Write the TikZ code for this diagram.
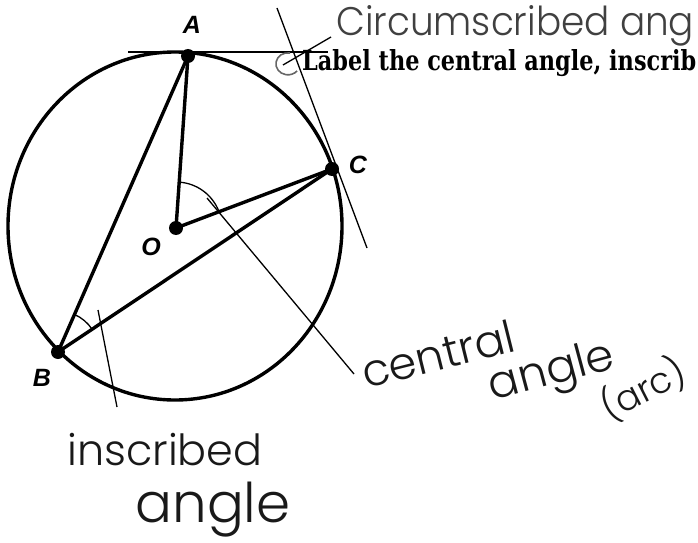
\documentclass[tikz,border=0pt]{standalone}
\usetikzlibrary{calc}
\usepackage{fontspec}
\setmainfont{Liberation Serif}
\newfontfamily\titlefont{DejaVu Serif}
\newfontfamily\lblfont{Liberation Sans}
\IfFontExistsTF{Poppins Light}{\newfontfamily\handfont{Poppins Light}}{\newfontfamily\handfont{DejaVu Sans}}
\usepackage{graphicx}
\begin{document}
\begin{tikzpicture}[x=1pt,y=1pt,
  thick line/.style={line width=3.4pt},
  thin line/.style={line width=1.3pt},
  dotmark/.style={circle,fill=black,inner sep=0pt,minimum size=14pt},
  ptlabel/.style={font=\lblfont\bfseries\itshape\fontsize{25}{25}\selectfont},
  hand/.style={font=\handfont, text=black!90, inner sep=0pt},
]
\useasboundingbox (0,0) rectangle (698,542);
% points
\coordinate (ctr) at (175,316);
\node[dotmark] (A) at (188,486) {};
\node[dotmark] (C) at (332,373) {};
\node[dotmark] (B) at (58,190) {};
\node[dotmark] (O) at (176,314) {};
% circle
\draw[thick line] (ctr) ellipse [x radius=167, y radius=174];
% segments
\draw[thick line] (A.center) -- (B.center);
\draw[thick line] (A.center) -- (O.center);
\draw[thick line] (O.center) -- (C.center);
\draw[thick line] (B.center) -- (C.center);
% tangent lines
\coordinate (t1a) at (128,490);
\coordinate (t1b) at (328,490);
\coordinate (t2a) at (277,534);
\coordinate (t2b) at (367,294);
\draw[thin line] (t1a) -- (t1b);
\draw[thin line] (t2a) -- (t2b);
% circumscribed angle mark
\draw[line width=1.6pt, black!60] (290,489) arc[start angle=80, end angle=320, x radius=12, y radius=11];
\coordinate (p1a) at (283,477);
\coordinate (p1b) at (331,505);
\draw[thin line] (p1a) -- (p1b);
% central angle arc
\draw[thin line] ($(O.center)+(86:46)$) arc[start angle=86, end angle=21, radius=46];
\coordinate (p2a) at (207,344);
\coordinate (p2b) at (354,168);
\draw[thin line] (p2a) -- (p2b);
% inscribed angle arc
\draw[thin line] ($(B.center)+(66:41)$) arc[start angle=66, end angle=34, radius=41];
\coordinate (p3a) at (98,232);
\coordinate (p3b) at (117,135);
\draw[thin line] (p3a) -- (p3b);
% point labels
\node[ptlabel] (lA) at (192,517) {A};
\node[ptlabel] (lC) at (358,377) {C};
\node[ptlabel] (lO) at (151,295) {O};
\node[ptlabel] (lB) at (42,164) {B};
% printed text
\node[anchor=base west, inner sep=0pt] (title) at (302,471) {\resizebox{394pt}{21pt}{\titlefont\bfseries Label the central angle, inscrib}};
% handwriting
\node[hand, anchor=west, text=black!75] (circ) at (336,516) {\resizebox{358pt}{30pt}{Circumscribed ang}};
\node[hand, rotate=14] (central) at (438,188) {\resizebox{156pt}{!}{central}};
\node[hand, rotate=15] (angle1) at (552,168) {\resizebox{128pt}{!}{angle}};
\node[hand, rotate=27] (arc) at (643,153) {\resizebox{90pt}{!}{(arc)}};
\node[hand] (inscribed) at (165,92) {\resizebox{195pt}{!}{inscribed}};
\node[hand] (angle2) at (213,32) {\resizebox{155pt}{!}{angle}};
\end{tikzpicture}
\end{document}
